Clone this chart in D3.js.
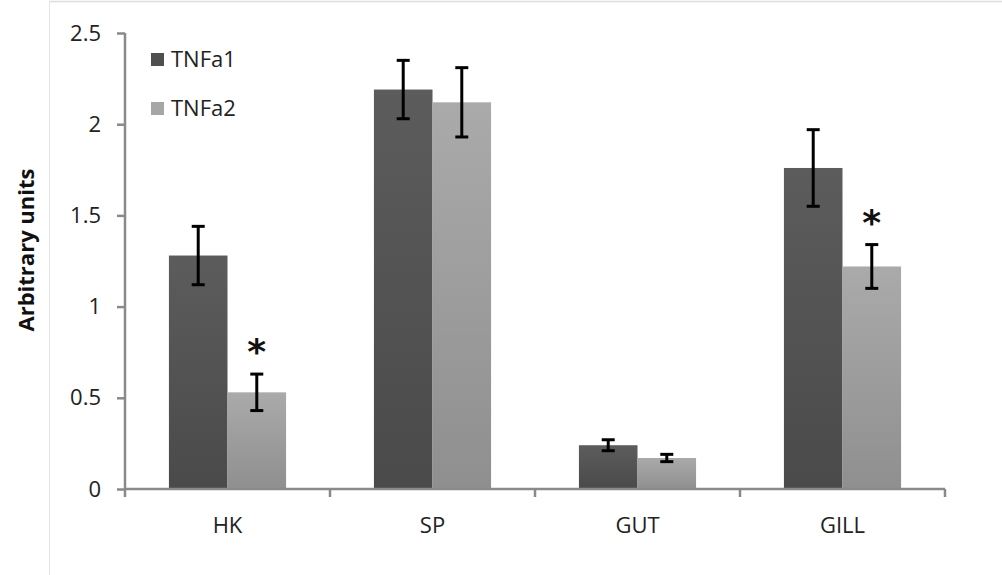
<!DOCTYPE html>
<html>
<head>
<meta charset="utf-8">
<script src="https://cdn.jsdelivr.net/npm/d3@7"></script>
<style>
  body { margin: 0; background: #fff; }
  svg { display: block; }
</style>
</head>
<body>
<svg id="chart" width="1002" height="575"></svg>
<script>
// tissues and the two genes
var categories = ['HK', 'SP', 'GUT', 'GILL'];
var seriesNames = ['TNFa1', 'TNFa2'];
var tnfa1 = [1.28, 2.19, 0.24, 1.76];
var tnfa2 = [0.53, 2.12, 0.17, 1.22];
var tnfa1Err = [0.16, 0.16, 0.03, 0.21];
var tnfa2Err = [0.10, 0.19, 0.02, 0.12];
var significantAt = [true, false, false, true]; // asterisk over TNFa2
var yTicks = [0, 0.5, 1, 1.5, 2, 2.5];

var svg = d3.select('#chart');
var font = '"Open Sans", Calibri, sans-serif';

// faint frame of the original figure
svg.append('line').attr('x1', 50).attr('y1', 1.5).attr('x2', 1002).attr('y2', 1.5)
	.style('stroke', '#dcdcdc').style('stroke-width', 1.5);
svg.append('line').attr('x1', 49.5).attr('y1', 1).attr('x2', 49.5).attr('y2', 575)
	.style('stroke', '#e4e4e4').style('stroke-width', 1);

var plotLeft = 125, plotRight = 945, plotTop = 33, plotBottom = 489;

var x = d3.scaleBand().domain(categories).range([plotLeft, plotRight]);
var xInner = d3.scaleBand().domain(seriesNames)
	.range([0, x.bandwidth()]).paddingOuter(0.75).paddingInner(0);
var y = d3.scaleLinear().domain([0, 2.5]).range([plotBottom, plotTop]);

// gradients like the office export
var defs = svg.append('defs');
var grads = [['g1', '#5c5c5c', '#4a4a4a'], ['g2', '#aaaaaa', '#8f8f8f']];
grads.forEach(function (g) {
	var lg = defs.append('linearGradient').attr('id', g[0])
		.attr('x1', 0).attr('y1', 0).attr('x2', 0).attr('y2', 1);
	lg.append('stop').attr('offset', '0%').attr('stop-color', g[1]);
	lg.append('stop').attr('offset', '100%').attr('stop-color', g[2]);
});

// y axis
var yAxis = svg.append('g')
	.attr('transform', 'translate(' + plotLeft + ',0)')
	.call(d3.axisLeft(y).tickValues(yTicks).tickSize(8).tickPadding(16)
		.tickFormat(function (d) { return d; }));
yAxis.select('.domain').attr('d', 'M0,' + plotTop + 'V' + (plotBottom + 8));
yAxis.selectAll('line, path').style('stroke', '#8a8a8a').style('stroke-width', 2.5);
yAxis.selectAll('text').style('font-family', font).style('font-size', '22px')
	.style('fill', '#222');

var series = [
	{ name: 'TNFa1', values: tnfa1, err: tnfa1Err, fill: 'url(#g1)' },
	{ name: 'TNFa2', values: tnfa2, err: tnfa2Err, fill: 'url(#g2)' }
];

series.forEach(function (s) {
	svg.append('g').selectAll('rect')
		.data(categories)
		.enter()
		.append('rect')
		.attr('x', function (c) { return x(c) + xInner(s.name); })
		.attr('y', function (c, i) { return y(s.values[i]); })
		.attr('width', xInner.bandwidth())
		.attr('height', function (c, i) { return y(0) - y(s.values[i]); })
		.style('fill', s.fill);
});

// x axis drawn after bars
var xAxis = svg.append('g')
	.attr('transform', 'translate(0,' + plotBottom + ')');
xAxis.append('line').attr('x1', plotLeft).attr('x2', plotRight).attr('y1', 0).attr('y2', 0)
	.style('stroke', '#8a8a8a').style('stroke-width', 2.5);
xAxis.selectAll('.tk')
	.data(categories)
	.enter()
	.append('line')
	.attr('x1', function (c) { return x(c) + x.bandwidth(); })
	.attr('x2', function (c) { return x(c) + x.bandwidth(); })
	.attr('y1', 0).attr('y2', 8)
	.style('stroke', '#8a8a8a').style('stroke-width', 2.5);
xAxis.selectAll('text')
	.data(categories)
	.enter()
	.append('text')
	.attr('x', function (c) { return x(c) + x.bandwidth() / 2; })
	.attr('y', 44)
	.attr('text-anchor', 'middle')
	.text(function (c) { return c; })
	.style('font-family', font).style('font-size', '22px').style('fill', '#222');

// error bars
series.forEach(function (s) {
	var g = svg.append('g');
	categories.forEach(function (c, i) {
		var cx = x(c) + xInner(s.name) + xInner.bandwidth() / 2;
		var hi = y(s.values[i] + s.err[i]), lo = y(s.values[i] - s.err[i]);
		g.append('line').attr('x1', cx).attr('x2', cx).attr('y1', hi).attr('y2', lo)
			.style('stroke', '#000').style('stroke-width', 3);
		[hi, lo].forEach(function (yy) {
			g.append('line').attr('x1', cx - 6.5).attr('x2', cx + 6.5).attr('y1', yy).attr('y2', yy)
				.style('stroke', '#000').style('stroke-width', 3);
		});
	});
});

// significance marks over TNFa2
categories.forEach(function (c, i) {
	if (!significantAt[i]) return;
	svg.append('text')
		.attr('x', x(c) + xInner('TNFa2') + xInner.bandwidth() / 2)
		.attr('y', y(tnfa2[i] + tnfa2Err[i]) - 10)
		.attr('text-anchor', 'middle')
		.text('*')
		.style('font-family', 'DejaVu Sans, sans-serif')
		.style('font-size', '36px').style('font-weight', 'bold').style('fill', '#111');
});

// y label
svg.append('text')
	.attr('transform', 'translate(34,250) rotate(-90)')
	.attr('text-anchor', 'middle')
	.text('Arbitrary units')
	.style('font-family', font).style('font-size', '22px').style('font-weight', 'bold')
	.style('fill', '#111');

// legend
var legend = svg.append('g');
var legendFills = ['#4f4f4f', '#a6a6a6'];
seriesNames.forEach(function (n, i) {
	legend.append('rect').attr('x', 151).attr('y', 53 + i * 49).attr('width', 13).attr('height', 13)
		.style('fill', legendFills[i]);
	legend.append('text').attr('x', 171).attr('y', 67 + i * 49).text(n)
		.style('font-family', font).style('font-size', '22px').style('fill', '#222');
});
</script>
</body>
</html>
